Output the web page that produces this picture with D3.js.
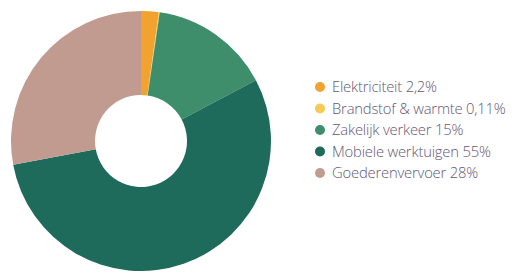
<!DOCTYPE html>
<html>
<head>
<meta charset="utf-8">
<script src="https://cdn.jsdelivr.net/npm/d3@7"></script>
<style>
  body { margin: 0; background: #fff; }
  svg { display: block; }
</style>
</head>
<body>
<script>
// chart data
var categories = ["Elektriciteit", "Brandstof & warmte", "Zakelijk verkeer", "Mobiele werktuigen", "Goederenvervoer"];
var values = [2.2, 0.11, 15, 55, 28];
var valueLabels = ["2,2%", "0,11%", "15%", "55%", "28%"];
var colors = ["#f2a22e", "#f4cb55", "#3f8e6b", "#1e6a5b", "#c29b90"];

var width = 517, height = 273;
var svg = d3.select("body").append("svg")
    .attr("width", width)
    .attr("height", height);

var data = categories.map(function (c, i) {
    return { name: c, value: values[i], label: valueLabels[i], color: colors[i] };
});

var pie = d3.pie()
    .sort(null)
    .value(function (d) { return d.value; });

var arc = d3.arc()
    .innerRadius(46)
    .outerRadius(130);

var donut = svg.append("g")
    .attr("transform", "translate(141,141)");

donut.selectAll("path")
    .data(pie(data))
    .enter().append("path")
    .attr("d", arc)
    .attr("fill", function (d) { return d.data.color; });

// legend
var legendY = d3.scalePoint()
    .domain(categories)
    .range([87, 173]);

var legend = svg.append("g");
var rows = legend.selectAll("g")
    .data(data)
    .enter().append("g")
    .attr("transform", function (d) { return "translate(320," + legendY(d.name) + ")"; });

rows.append("circle")
    .attr("r", 5)
    .attr("fill", function (d) { return d.color; });

rows.append("text")
    .attr("x", 12)
    .attr("dy", "0.35em")
    .attr("font-family", "'Open Sans', sans-serif")
    .attr("font-size", 14.8)
    .attr("font-weight", 300)
    .attr("letter-spacing", -0.2)
    .attr("fill", "#655673")
    .text(function (d) { return d.name + " " + d.label; });
</script>
</body>
</html>
